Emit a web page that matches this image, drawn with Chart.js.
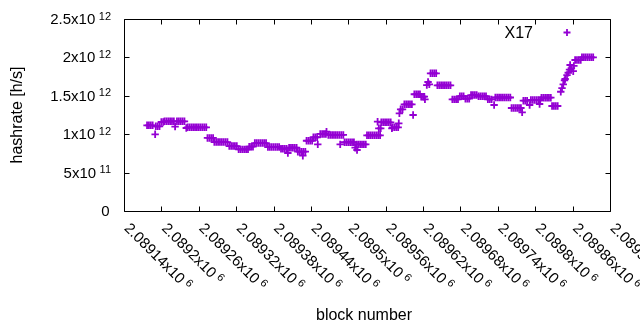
<!DOCTYPE html>
<html><head><meta charset="utf-8">
<script src="https://cdn.jsdelivr.net/npm/chart.js@4"></script>
<style>html,body{margin:0;padding:0;background:#fff}canvas{display:block}</style>
</head><body>
<canvas id="c" width="640" height="330"></canvas>
<script>
const seriesName = 'X17';
const xAxisTitle = 'block number';
const yAxisTitle = 'hashrate [h/s]';

// block numbers (x) and hashrate in units of 10^12 h/s (y)
const blockNumbers = [
  2089177,2089180,2089183,2089186, 2089190,
  2089191,2089194,2089197, 2089200,2089203,
  2089205,2089208,2089211,2089214,2089217,2089220, 2089222,
  2089225,2089228,2089231,2089234,2089237, 2089240,
  2089242,2089245,2089248,2089251,2089254,2089257,2089260,2089263,2089266,2089269,2089272,
  2089274,2089277,2089280,2089283,
  2089285,2089288,2089291,2089294,2089297,2089300,2089303,2089306,
  2089309,2089312,2089315,2089318,2089321,
  2089324,2089327,2089330,2089333,2089336,2089339,
  2089341,2089344,2089347,
  2089350,2089353,2089356,2089359,2089362,2089365,2089368,
  2089371,2089374,2089377,2089380,2089383,2089386,2089389,
  2089392,2089395,2089398,2089401, 2089403,
  2089405,2089408,2089411,2089414,2089417,
  2089419,2089422,2089425,2089428,2089431, 2089427,
  2089433,2089436,2089439,2089442,
  2089444,2089447,2089450, 2089451,
  2089455,2089458,2089461,2089464, 2089465,
  2089468,2089471,2089474,2089477,2089480,2089483,2089486,2089489,2089492, 2089487,
  2089494,2089497,2089500,2089503,2089506,2089509, 2089511,2089514,
  2089513,2089516,2089519,2089522,2089525,2089528,
  2089530,2089533,2089536,2089539,2089542,2089545,2089548,2089551, 2089547,2089549,2089552,
  2089553,2089556,2089559,2089562,2089565,2089568, 2089570,
  2089571,2089574,2089577,2089580, 2089581,2089582,
  2089584,2089587,
  2089590,2089593,2089596,2089599,2089602, 2089604,
  2089606,2089609,2089612,2089615,
  2089617,2089620,2089622, 2089623,
  2089626,2089628,2089630,
  2089632,2089635,2089638,2089641,
  2089643,2089646,2089649,2089652,2089655,2089658,2089661,2089664,
  2089667,2089670,2089673,2089676,
  2089679,2089682,2089685,
  2089688,2089691,2089694,
  2089697,2089700,2089703,2089706,
  2089709,2089712,2089715,2089718,2089721,
  2089724,2089727,2089730, 2089734,
  2089736,2089739,2089742,2089745,2089748,2089751,2089754,2089757,2089760,
  2089762,2089765,2089768,2089771,2089774,2089777, 2089779,
  2089781,2089784,2089787, 2089791,
  2089793,2089796,2089799,2089802,2089805,2089808, 2089807,
  2089810,2089813,2089816,2089819,2089822,2089825,
  2089827,2089830,2089833,2089836,
  2089841,2089843,2089845,2089847,2089848,2089851,2089853,2089855,2089856,2089858,2089861,2089862,
  2089864,2089867,2089870,2089873,
  2089875,2089878,2089881,2089884,2089887,2089890,2089893
];
const hashrateTH = [
  1.116,1.116,1.116,1.116, 0.999,
  1.103,1.103,1.103, 1.159,1.159,
  1.168,1.168,1.168,1.168,1.168,1.168, 1.098,
  1.168,1.168,1.168,1.168,1.168, 1.081,
  1.090,1.090,1.090,1.090,1.090,1.090,1.090,1.090,1.090,1.090,1.090,
  0.951,0.951,0.951,0.951,
  0.898,0.898,0.898,0.898,0.898,0.898,0.898,0.898,
  0.846,0.846,0.846,0.846,0.846,
  0.803,0.803,0.803,0.803,0.803,0.803,
  0.837,0.837,0.837,
  0.885,0.885,0.885,0.885,0.885,0.885,0.885,
  0.833,0.833,0.833,0.833,0.833,0.833,0.833,
  0.811,0.811,0.811,0.811, 0.755,
  0.824,0.824,0.824,0.824,0.824,
  0.772,0.772,0.772,0.772,0.772, 0.720,
  0.915,0.915,0.915,0.915,
  0.960,0.960,0.960, 0.868,
  1.003,1.003,1.003,1.003, 1.033,
  0.990,0.990,0.990,0.990,0.990,0.990,0.990,0.990,0.990, 0.868,
  0.895,0.895,0.895,0.895,0.895,0.895, 0.824,0.794,
  0.868,0.868,0.868,0.868,0.868,0.868,
  0.986,0.986,0.986,0.986,0.986,0.986,0.986,0.986, 1.163,1.077,1.077,
  1.155,1.155,1.155,1.155,1.155,1.155, 1.077,
  1.090,1.090,1.090,1.090, 1.142,1.272,
  1.324,1.324,
  1.389,1.389,1.389,1.389,1.389, 1.250,
  1.520,1.520,1.520,1.520,
  1.488,1.488,1.488, 1.454,
  1.640,1.680,1.650,
  1.793,1.793,1.793,1.793,
  1.637,1.637,1.637,1.637,1.637,1.637,1.637,1.637,
  1.454,1.454,1.454,1.454,
  1.494,1.494,1.494,
  1.462,1.462,1.462,
  1.510,1.510,1.510,1.510,
  1.494,1.494,1.494,1.494,1.494,
  1.454,1.454,1.454, 1.380,
  1.478,1.478,1.478,1.478,1.478,1.478,1.478,1.478,1.478,
  1.341,1.341,1.341,1.341,1.341,1.341, 1.285,
  1.436,1.436,1.436, 1.380,
  1.445,1.445,1.445,1.445,1.445,1.445, 1.393,
  1.475,1.475,1.475,1.475,1.475,1.475,
  1.367,1.367,1.367,1.367,
  1.553,1.600,1.650,1.700,1.719,1.770,1.800,1.840,1.901,1.860,1.820,1.890,
  1.966,1.966,1.966,1.966,
  2.001,2.001,2.001,2.001,2.001,2.001,2.001
];

const xTickValues = [2089140,2089200,2089260,2089320,2089380,2089440,2089500,2089560,2089620,2089680,2089740,2089800,2089860,2089920];
const yTickValues = [0, 5e11, 1e12, 1.5e12, 2e12, 2.5e12];

const FONT = '"Liberation Sans", Arial, sans-serif';
const COLOR = '#9400d3';

function xLabelParts(v) {
  return [String(Number((v / 1e6).toFixed(5))) + 'x10', '6'];
}
function yLabelParts(v) {
  if (v === 0) return ['0', ''];
  const e = Math.floor(Math.log10(v) + 1e-9);
  return [String(Number((v / Math.pow(10, e)).toFixed(3))) + 'x10', String(e)];
}

const points = blockNumbers.map((b, i) => ({ x: b, y: hashrateTH[i] * 1e12 }));

const gnuplotFrame = {
  id: 'gnuplotFrame',
  afterDraw(chart) {
    const { ctx, chartArea: a, scales: { x, y } } = chart;
    ctx.save();
    ctx.strokeStyle = '#000';
    ctx.lineWidth = 1;
    const L = Math.round(a.left) + 0.5, R = Math.round(a.right) + 0.5;
    const T = Math.round(a.top) + 0.5, B = Math.round(a.bottom) + 0.5;
    const tl = 5;
    ctx.beginPath();
    ctx.rect(L, T, R - L, B - T);
    xTickValues.forEach(v => {
      const px = Math.round(x.getPixelForValue(v)) + 0.5;
      ctx.moveTo(px, B); ctx.lineTo(px, B - tl);
      ctx.moveTo(px, T); ctx.lineTo(px, T + tl);
    });
    yTickValues.forEach(v => {
      const py = Math.round(y.getPixelForValue(v)) + 0.5;
      ctx.moveTo(L, py); ctx.lineTo(L + tl, py);
      ctx.moveTo(R, py); ctx.lineTo(R - tl, py);
    });
    ctx.stroke();

    ctx.fillStyle = '#000';
    ctx.textBaseline = 'alphabetic';
    // y tick labels
    yTickValues.forEach(v => {
      const py = y.getPixelForValue(v);
      const [m, e] = yLabelParts(v);
      ctx.textAlign = 'right';
      let xr = a.left - 13;
      if (e) {
        ctx.font = '11px ' + FONT;
        ctx.fillText(e, xr, py + 0.5);
        xr -= ctx.measureText(e).width + 3.5;
      } else {
        xr -= 1.5;
      }
      ctx.font = '15px ' + FONT;
      ctx.fillText(m, xr, py + 5);
    });
    // x tick labels, rotated
    xTickValues.forEach(v => {
      const px = x.getPixelForValue(v);
      const [m, e] = xLabelParts(v);
      ctx.save();
      ctx.translate(px - 0.5, a.bottom + 18);
      ctx.rotate(Math.PI / 4);
      ctx.textAlign = 'left';
      ctx.font = '15px ' + FONT;
      ctx.fillText(m, 0, 0);
      const w = ctx.measureText(m).width;
      ctx.font = '11px ' + FONT;
      ctx.fillText(e, w + 3.5, -4.7);
      ctx.restore();
    });
    // axis titles
    ctx.font = '16px ' + FONT;
    ctx.textAlign = 'center';
    ctx.fillText(xAxisTitle, 364, 319.5);
    ctx.save();
    ctx.translate(18, (a.top + a.bottom) / 2);
    ctx.rotate(-Math.PI / 2);
    ctx.textBaseline = 'middle';
    ctx.fillText(yAxisTitle, 0, 0);
    ctx.restore();
    // key
    ctx.textAlign = 'right';
    ctx.textBaseline = 'alphabetic';
    ctx.fillText(chart.data.datasets[0].label, 533, 37.5);
    ctx.strokeStyle = COLOR;
    ctx.lineWidth = 1.8;
    ctx.beginPath();
    ctx.moveTo(563.5, 32.5); ctx.lineTo(570.5, 32.5);
    ctx.moveTo(567, 29); ctx.lineTo(567, 36);
    ctx.stroke();
    ctx.restore();
  }
};

new Chart(document.getElementById('c'), {
  type: 'scatter',
  data: {
    datasets: [{
      label: seriesName,
      data: points,
      pointStyle: 'cross',
      pointRadius: 3.7,
      pointHoverRadius: 3.7,
      borderWidth: 1.8,
      pointBorderWidth: 1.8,
      borderColor: COLOR,
      backgroundColor: COLOR,
      clip: false
    }]
  },
  options: {
    responsive: false,
    animation: false,
    devicePixelRatio: 1,
    events: [],
    layout: { padding: { left: 124, right: 30, top: 19, bottom: 119 } },
    plugins: { legend: { display: false }, tooltip: { enabled: false } },
    scales: {
      x: { type: 'linear', display: false, min: 2089140, max: 2089920 },
      y: { type: 'linear', display: false, min: 0, max: 2.5e12 }
    }
  },
  plugins: [gnuplotFrame]
});
</script>
</body></html>
